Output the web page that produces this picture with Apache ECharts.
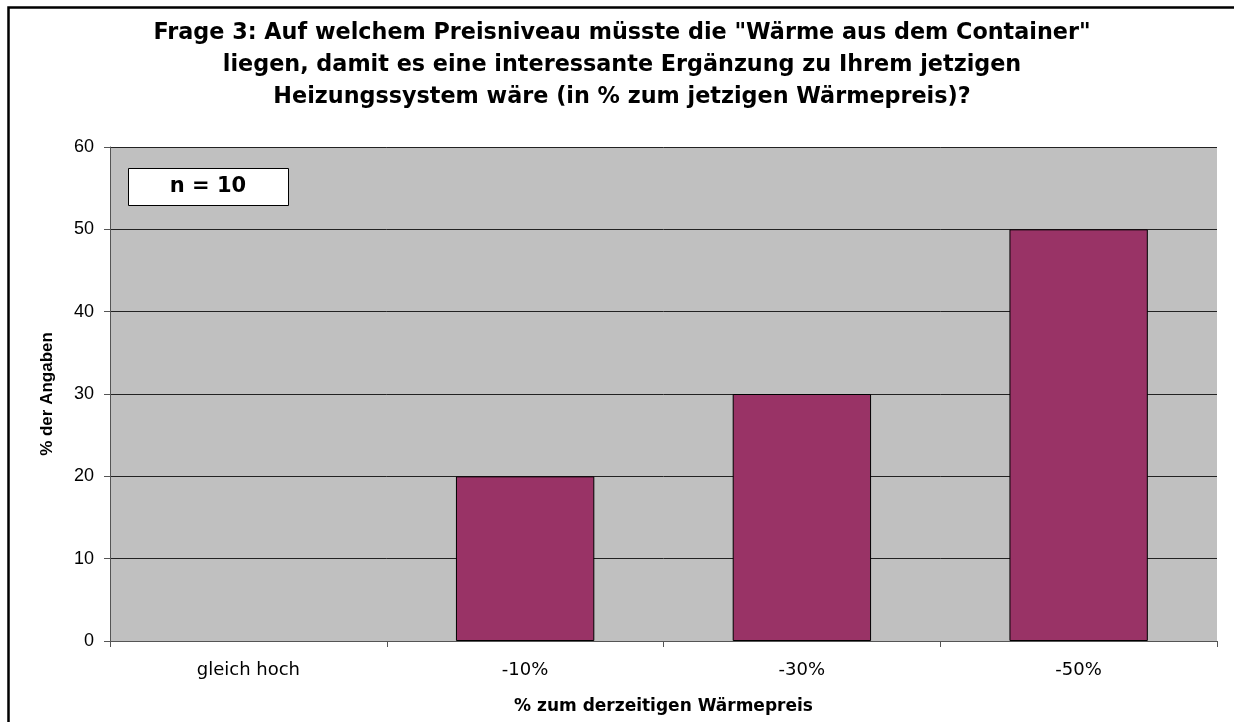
<!DOCTYPE html>
<html>
<head>
<meta charset="utf-8">
<script src="https://cdn.jsdelivr.net/npm/echarts@6/dist/echarts.min.js"></script>
<style>
  html, body { margin: 0; padding: 0; background: #fff; }
  #chart { width: 1234px; height: 722px; }
</style>
</head>
<body>
<div id="chart"></div>
<script>
// Daten
var categories = ['gleich hoch', '-10%', '-30%', '-50%'];
var values = [0, 20, 30, 50];
var titleText = 'Frage 3: Auf welchem Preisniveau müsste die "Wärme aus dem Container"\nliegen, damit es eine interessante Ergänzung zu Ihrem jetzigen\nHeizungssystem wäre (in % zum jetzigen Wärmepreis)?';
var sampleNote = 'n = 10';

var myChart = echarts.init(document.getElementById('chart'));

// Balken mit Wert 0 ohne Rahmen (sonst sieht man eine Linie)
var barData = values.map(function (v) {
    return v === 0 ? { value: v, itemStyle: { borderWidth: 0 } } : v;
});

var option = {
    animation: false,
    backgroundColor: '#ffffff',
    textStyle: { fontFamily: 'Liberation Sans, Arial, sans-serif' },
    title: {
        text: titleText,
        left: 617,
        top: 12,
        textAlign: 'center',
        textStyle: {
            fontSize: 22.3,
            fontWeight: 'bold',
            color: '#000',
            lineHeight: 32,
            fontFamily: 'DejaVu Sans, sans-serif'
        }
    },
    grid: {
        left: 110,
        right: 17,
        top: 147,
        bottom: 81,
        show: true,
        backgroundColor: '#C0C0C0',
        borderWidth: 0
    },
    xAxis: {
        type: 'category',
        data: categories,
        name: '% zum derzeitigen Wärmepreis',
        nameLocation: 'middle',
        nameGap: 57,
        nameTextStyle: { fontSize: 17, fontWeight: 'bold', color: '#000', fontFamily: 'DejaVu Sans, sans-serif' },
        axisLine: { lineStyle: { color: '#555', width: 1 } },
        axisTick: { show: true, length: 6, lineStyle: { color: '#555' } },
        axisLabel: { fontSize: 18, color: '#000', margin: 20, fontFamily: 'DejaVu Sans, sans-serif' },
        splitLine: { show: false }
    },
    yAxis: {
        type: 'value',
        min: 0,
        max: 60,
        interval: 10,
        name: '% der Angaben',
        nameLocation: 'middle',
        nameGap: 54,
        nameRotate: 90,
        nameTextStyle: { fontSize: 17, fontWeight: 'bold', color: '#000', fontFamily: 'Liberation Sans, Arial, sans-serif' },
        axisLine: { show: true, lineStyle: { color: '#555', width: 1 } },
        axisTick: { show: true, length: 6, lineStyle: { color: '#555' } },
        axisLabel: { fontSize: 18, color: '#000', margin: 16, fontFamily: 'Liberation Sans, Arial, sans-serif' },
        splitLine: { show: true, lineStyle: { color: '#222', width: 1 } }
    },
    series: [{
        type: 'bar',
        data: barData,
        barWidth: '50%',
        itemStyle: {
            color: '#993366',
            borderColor: '#000',
            borderWidth: 1
        }
    }],
    graphic: [
        {
            type: 'rect',
            x: 0,
            y: 0,
            shape: { x: 8.5, y: 7.5, width: 1240, height: 730 },
            style: { fill: 'none', stroke: '#000', lineWidth: 2.5 },
            silent: true
        },
        {
            type: 'group',
            x: 128,
            y: 168,
            children: [
                {
                    type: 'rect',
                    shape: { x: 0.5, y: 0.5, width: 160, height: 37 },
                    style: { fill: '#fff', stroke: '#000', lineWidth: 1 }
                },
                {
                    type: 'text',
                    x: 80,
                    y: 19,
                    style: {
                        text: sampleNote,
                        fill: '#000',
                        font: 'bold 21px DejaVu Sans, sans-serif',
                        align: 'center',
                        verticalAlign: 'middle'
                    }
                }
            ]
        }
    ]
};

myChart.setOption(option);
</script>
</body>
</html>
